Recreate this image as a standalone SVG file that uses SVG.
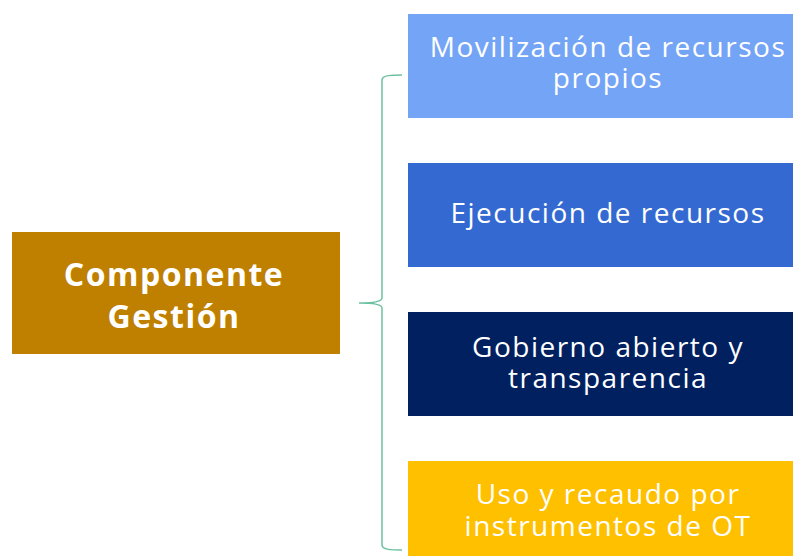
<svg xmlns="http://www.w3.org/2000/svg" width="793" height="556" viewBox="0 0 793 556">
<style>
.t{font-family:"Open Sans","Noto Sans","Liberation Sans",sans-serif;fill:#fff;text-anchor:middle;font-size:28px;letter-spacing:1.5px}
.b{font-weight:bold;font-size:32px;letter-spacing:1.5px}
.br{fill:none;stroke:#6cc1a0;stroke-width:1.5}
</style>
<rect width="793" height="556" fill="#fff"/>
<g id="componente-gestion">
<rect x="12" y="232" width="328" height="122" fill="#BF8000"/>
<text class="t b" x="174" y="286">Componente</text>
<text class="t b" x="174" y="328">Gestión</text>
</g>
<g id="connectors">
<path class="br" d="M402,75 C392,75 382,75 382,80 L382,298 C382,302 372,303 359,303 C372,303 382,304 382,308 L382,545 C382,550 392,550 402,550"/>
</g>
<g id="movilizacion">
<rect x="408" y="14" width="398" height="104" fill="#74A4F5"/>
<text class="t" x="608" y="57">Movilización de recursos</text>
<text class="t" x="608" y="88">propios</text>
</g>
<g id="ejecucion">
<rect x="408" y="163" width="398" height="104" fill="#3469D1"/>
<text class="t" x="608" y="223">Ejecución de recursos</text>
</g>
<g id="gobierno">
<rect x="408" y="312" width="398" height="104" fill="#002060"/>
<text class="t" x="608" y="357">Gobierno abierto y</text>
<text class="t" x="608" y="388">transparencia</text>
</g>
<g id="uso">
<rect x="408" y="461" width="398" height="104" fill="#FFC000"/>
<text class="t" x="608" y="504">Uso y recaudo por</text>
<text class="t" x="608" y="536">instrumentos de OT</text>
</g>
</svg>
